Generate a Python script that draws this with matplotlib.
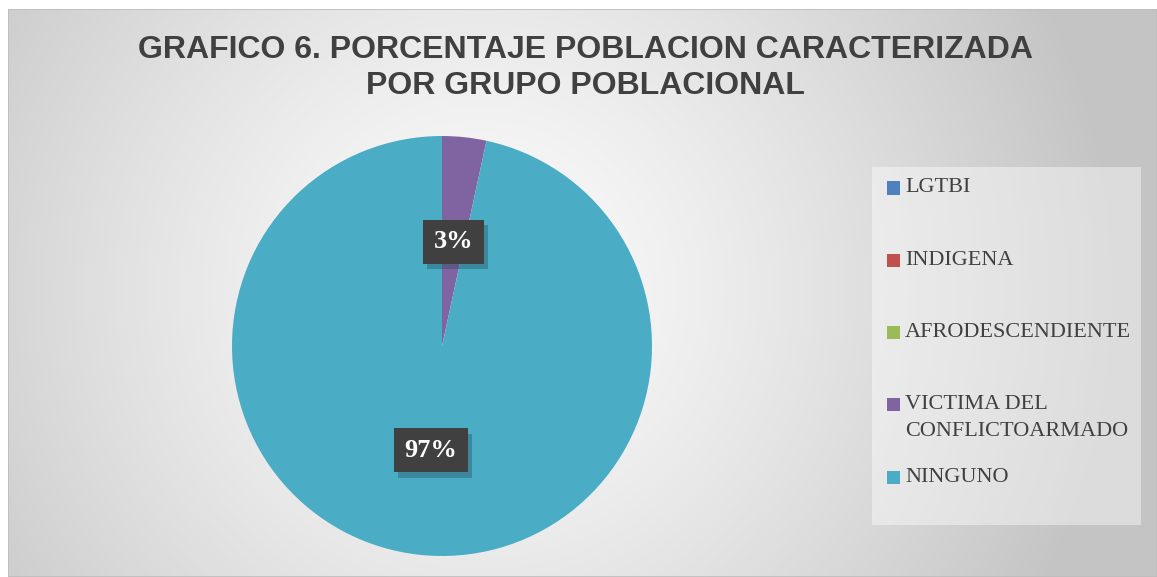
import numpy as np
import matplotlib
matplotlib.use("Agg")
import matplotlib.pyplot as plt
from matplotlib.patches import Rectangle
from matplotlib import patheffects as pe

# ---- data ----
categories = ["LGTBI", "INDIGENA", "AFRODESCENDIENTE", "VICTIMA DEL\nCONFLICTOARMADO", "NINGUNO"]
values = [0, 0, 0, 3.4, 96.6]
colors = ["#4F81BD", "#C0504D", "#9BBB59", "#8064A2", "#4BACC6"]
title = "GRAFICO 6. PORCENTAJE POBLACION CARACTERIZADA\nPOR GRUPO POBLACIONAL"

W, H = 1157, 577
fig = plt.figure(figsize=(W / 100, H / 100), dpi=100)
fig.patch.set_facecolor("white")

def fx(px):
    return px / W

def fy(py):
    return 1 - py / H

# ---- background radial gradient (chart area) ----
x0, y0 = 8, 9
bg = fig.add_axes([fx(x0), 0, 1 - fx(x0), fy(y0)])
bg.set_axis_off()
xx, yy = np.meshgrid(np.arange(x0, W), np.arange(y0, H))
cx, cy = 480, 290
d = np.hypot(xx - cx, yy - cy) / 640.0
d = np.clip(d, 0, 1)
g = 252 - (252 - 196) * d ** 1.3
img = np.dstack([g, g, g]) / 255.0
bg.imshow(img, extent=[0, 1, 0, 1], aspect="auto", interpolation="bilinear")
bg.set_xlim(0, 1)
bg.set_ylim(0, 1)
bg.add_patch(Rectangle((0, 0), 1, 1, transform=bg.transAxes, fill=False,
                       ec="#bdbdbd", lw=1.2))

# ---- title ----
fig.text(fx(585), fy(68), title, ha="center", va="center", fontsize=23,
         fontweight="bold", color="#404040", family="Liberation Sans",
         linespacing=1.27)

# ---- pie ----
pcx, pcy, R = 442, 346, 210
ax = fig.add_axes([fx(pcx - R), fy(pcy + R), 2 * R / W, 2 * R / H])
ax.set_axis_off()
wedges, texts, autotexts = ax.pie(
    values, colors=colors, startangle=90, counterclock=False,
    autopct=lambda p: f"{p:.0f}%" if p > 0 else "", pctdistance=0.5,
    wedgeprops=dict(linewidth=0),
    textprops=dict(color="white", fontsize=19, fontweight="bold",
                   family="Liberation Serif"))
ax.set_xlim(-1, 1)
ax.set_ylim(-1, 1)
for t in autotexts:
    if t.get_text():
        t.set_bbox(dict(boxstyle="square,pad=0.4", fc="#404040", ec="none", lw=0))
        bp = t.get_bbox_patch()
        bp.set_path_effects([pe.SimplePatchShadow(offset=(3, -4), shadow_rgbFace="#1d4a57",
                                                  alpha=0.35), pe.Normal()])

# ---- legend ----
lg_box = Rectangle((fx(872), fy(525)), fx(1141) - fx(872), fy(167) - fy(525),
                   transform=fig.transFigure, fc="white", alpha=0.42, ec="none")
fig.patches.append(lg_box)
row0, step = 188, 72.25
for i, (lab, w) in enumerate(zip(categories, wedges)):
    yc = row0 + i * step
    fig.patches.append(Rectangle((fx(887), fy(yc + 6.5)), fx(13), 13 / H,
                                 transform=fig.transFigure,
                                 fc=w.get_facecolor(), ec="none"))
    for j, line in enumerate(lab.split("\n")):
        fig.text(fx(905), fy(yc + j * 27), line, ha="left", va="center",
                 fontsize=16, color="#404040", family="Liberation Serif")

fig.savefig("out.png", dpi=100)
